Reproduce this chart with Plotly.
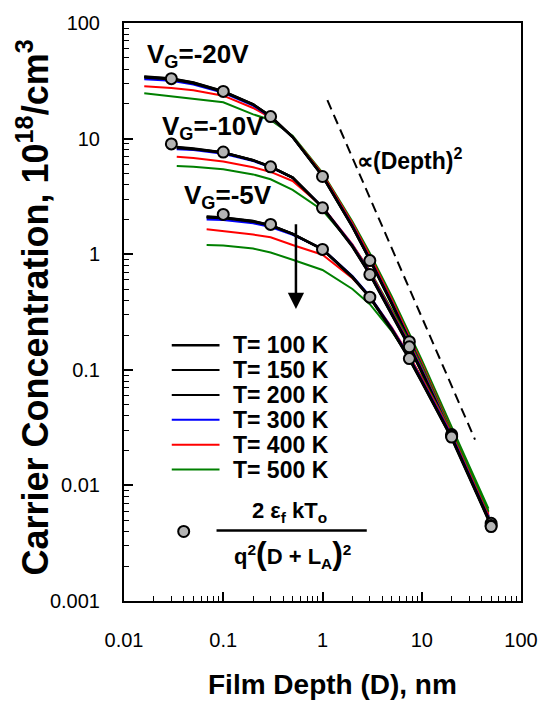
import math
import plotly.graph_objects as go

# Temperatures and their line colours (100-200 K are drawn in black)
temps = [100, 150, 200, 300, 400, 500]
temp_colors = ["#000000", "#000000", "#000000", "#0000ff", "#ff0000", "#008000"]

# Simulated carrier concentration (10^18 / cm^3) versus film depth (nm)
depth_20 = [0.016, 0.03, 0.05, 0.1, 0.2, 0.3, 0.5, 1, 2, 3, 5, 7.5, 10, 20, 47]
conc_20 = {
    100: [34.5, 33.2, 30.6, 25.7, 19.8, 15.6, 10.3, 4.72, 1.72, 0.89, 0.370, 0.175, 0.104, 0.0272, 0.0052],
    150: [34.2, 33.0, 30.4, 25.6, 19.8, 15.6, 10.3, 4.74, 1.73, 0.895, 0.372, 0.177, 0.105, 0.0275, 0.0053],
    200: [33.8, 32.6, 30.1, 25.4, 19.7, 15.5, 10.3, 4.76, 1.74, 0.90, 0.375, 0.179, 0.106, 0.0278, 0.0054],
    300: [32.6, 31.6, 29.3, 24.9, 19.3, 15.3, 10.3, 4.80, 1.78, 0.92, 0.385, 0.184, 0.109, 0.0285, 0.0055],
    400: [28.4, 27.4, 26.2, 23.5, 18.4, 15.2, 10.4, 4.95, 1.85, 0.97, 0.405, 0.192, 0.114, 0.0298, 0.0058],
    500: [24.7, 23.2, 22.2, 20.6, 16.2, 14.5, 10.6, 5.05, 1.92, 1.02, 0.430, 0.205, 0.122, 0.0320, 0.0063],
}

depth_10 = [0.034, 0.05, 0.1, 0.2, 0.3, 0.5, 1, 2, 3, 5, 7.5, 10, 20, 47]
conc_10 = {
    100: [8.45, 8.20, 7.60, 6.50, 5.72, 4.60, 2.53, 1.16, 0.665, 0.300, 0.157, 0.095, 0.0263, 0.0051],
    150: [8.40, 8.15, 7.58, 6.50, 5.72, 4.60, 2.54, 1.17, 0.670, 0.303, 0.159, 0.096, 0.0266, 0.0052],
    200: [8.30, 8.10, 7.55, 6.48, 5.70, 4.60, 2.55, 1.18, 0.675, 0.306, 0.161, 0.097, 0.0269, 0.0053],
    300: [8.10, 7.95, 7.40, 6.40, 5.65, 4.58, 2.57, 1.20, 0.690, 0.314, 0.165, 0.100, 0.0277, 0.0054],
    400: [6.95, 6.80, 6.35, 5.65, 5.15, 4.30, 2.58, 1.22, 0.710, 0.325, 0.170, 0.103, 0.0285, 0.0056],
    500: [5.80, 5.70, 5.43, 4.90, 4.45, 3.60, 2.40, 1.20, 0.720, 0.335, 0.178, 0.108, 0.0300, 0.0060],
}

depth_5 = [0.068, 0.1, 0.2, 0.3, 0.5, 1, 2, 3, 5, 7.5, 10, 20, 47]
conc_5 = {
    100: [2.12, 2.08, 1.94, 1.78, 1.50, 1.10, 0.630, 0.420, 0.220, 0.123, 0.078, 0.0255, 0.0050],
    150: [2.10, 2.07, 1.93, 1.78, 1.50, 1.10, 0.635, 0.424, 0.222, 0.124, 0.079, 0.0258, 0.0051],
    200: [2.08, 2.05, 1.91, 1.77, 1.50, 1.11, 0.640, 0.428, 0.224, 0.126, 0.080, 0.0262, 0.0052],
    300: [2.00, 1.98, 1.85, 1.72, 1.47, 1.11, 0.650, 0.435, 0.229, 0.129, 0.082, 0.0270, 0.0053],
    400: [1.64, 1.58, 1.48, 1.40, 1.20, 0.99, 0.620, 0.430, 0.232, 0.132, 0.085, 0.0280, 0.0055],
    500: [1.20, 1.19, 1.12, 1.035, 0.895, 0.73, 0.500, 0.370, 0.215, 0.128, 0.086, 0.0290, 0.0059],
}

# Analytical estimate 2*eps_f*k*T0 / (q^2 (D + L_A)^2)
fit_depth = [0.03, 0.1, 0.3, 1, 3, 7.5, 20, 50]
fit_20 = [33.0, 25.6, 15.5, 4.70, 0.88, 0.175, 0.0275, 0.0047]
fit_10 = [9.0, 7.65, 5.70, 2.52, 0.667, 0.158, 0.0267, 0.0045]
fit_depth_5 = [0.1, 0.3, 1, 3, 7.5, 20, 50]
fit_5 = [2.21, 1.81, 1.10, 0.425, 0.125, 0.0262, 0.0044]

# Depth^-2 guide line and the temperature arrow
guide_depth = [1.12, 34.4]
guide_conc = [21.5, 0.0249]
arrow_depth = 0.54
arrow_from, arrow_to = 1.87, 0.336

x_ticks = [0.01, 0.1, 1, 10, 100]
y_ticks = [0.001, 0.01, 0.1, 1, 10, 100]
x_ticktext = ["0.01", "0.1", "1", "10", "100"]
y_ticktext = ["0.001", "0.01", "0.1", "1", "10", "100"]


def minor_values(lo_exp, hi_exp):
    return [m * 10.0 ** e for e in range(lo_exp, hi_exp) for m in range(2, 10)]


W, H = 550, 705
ML, MR, MT, MB = 124, 27, 15, 104
PW, PH = W - ML - MR, H - MT - MB


def px(x):
    return (x - ML) / PW


def py(y):
    return (H - MB - y) / PH


FONT = "Liberation Sans, Arial, Helvetica, sans-serif"

fig = go.Figure()

groups = [(depth_20, conc_20), (depth_10, conc_10), (depth_5, conc_5)]
for depth, conc in groups:
    for T, col in reversed(list(zip(temps, temp_colors))):
        fig.add_trace(go.Scatter(
            x=depth, y=conc[T], mode="lines",
            line=dict(color=col, width=2.4 if col == "#000000" else 2),
            showlegend=False, hoverinfo="skip"))

fig.add_trace(go.Scatter(
    x=guide_depth, y=guide_conc, mode="lines",
    line=dict(color="black", width=2, dash="10px,6px"),
    showlegend=False, hoverinfo="skip"))

for fx, fy in [(fit_depth, fit_20), (fit_depth, fit_10), (fit_depth_5, fit_5)]:
    fig.add_trace(go.Scatter(
        x=fx, y=fy, mode="markers",
        marker=dict(size=11, color="#b4b4b4", line=dict(color="black", width=2)),
        showlegend=False, hoverinfo="skip"))


def log_axis(rng, vals, texts, minor_vals, standoff):
    return dict(
        type="log", range=rng, showgrid=False, zeroline=False,
        showline=True, linecolor="black", linewidth=2, mirror=True,
        ticks="inside", ticklen=9, tickwidth=1.5, tickcolor="black",
        tickmode="array", tickvals=vals, ticktext=texts,
        ticklabelstandoff=standoff,
        tickfont=dict(family=FONT, size=20, color="black"),
        minor=dict(tickmode="array", tickvals=minor_vals,
                   ticks="inside", ticklen=5, tickwidth=1.2,
                   tickcolor="black", showgrid=False),
    )


fig.update_layout(
    width=W, height=H,
    margin=dict(l=ML, r=MR, t=MT, b=MB, pad=0),
    paper_bgcolor="white", plot_bgcolor="white",
    showlegend=False,
    xaxis=log_axis([-2, 2], x_ticks, x_ticktext, minor_values(-2, 2), 20),
    yaxis=log_axis([-3, 2], y_ticks, y_ticktext, minor_values(-3, 2), 18),
)

ann = []
# Axis titles
ann.append(dict(xref="paper", yref="paper", x=px(334), y=py(686),
                text="<b>Film Depth (D), nm</b>", showarrow=False,
                xanchor="center", yanchor="middle",
                font=dict(family=FONT, size=28, color="black")))
ann.append(dict(xref="paper", yref="paper", x=px(33), y=py(303),
                text="<b>Carrier Concentration, 10<sup>18</sup>/cm<sup>3</sup></b>",
                showarrow=False, textangle=-90,
                xanchor="center", yanchor="middle",
                font=dict(family=FONT, size=36, color="black")))

# Gate-bias labels
for label, lx, ly in [("-20V", 145, 48), ("-10V", 160, 121), ("-5V", 182, 191)]:
    ann.append(dict(xref="paper", yref="paper", x=px(lx), y=py(ly),
                    text="<b>V<sub>G</sub>=" + label + "</b>", showarrow=False,
                    xanchor="left", yanchor="middle",
                    font=dict(family=FONT, size=26, color="black")))

# Guide-line label
ann.append(dict(xref="paper", yref="paper", x=px(356), y=py(153),
                text="<b>\u221d(Depth)<sup>2</sup></b>", showarrow=False,
                xanchor="left", yanchor="middle",
                font=dict(family=FONT, size=23, color="black")))

# Temperature arrow
ann.append(dict(xref="x", yref="y", axref="x", ayref="y",
                x=math.log10(arrow_depth), y=math.log10(arrow_to),
                ax=math.log10(arrow_depth), ay=math.log10(arrow_from),
                text="", showarrow=True, arrowhead=2, arrowsize=1.3,
                arrowwidth=2.5, arrowcolor="black"))

shapes = []
# Legend for temperatures
row_y = [341.7, 366.9, 392.1, 417.3, 442.5, 467.7]
for T, col, ry in zip(temps, temp_colors, row_y):
    shapes.append(dict(type="line", xref="paper", yref="paper",
                       x0=px(172), x1=px(220), y0=py(ry), y1=py(ry),
                       line=dict(color=col, width=2.5 if T == 100 else 2)))
    ann.append(dict(xref="paper", yref="paper", x=px(232), y=py(ry),
                    text="<b>T= %d K</b>" % T, showarrow=False,
                    xanchor="left", yanchor="middle",
                    font=dict(family=FONT, size=23, color="black")))

# Legend for the analytical estimate
shapes.append(dict(type="circle", xref="paper", yref="paper",
                   xsizemode="pixel", ysizemode="pixel",
                   xanchor=px(184), yanchor=py(530.5),
                   x0=-5.5, x1=5.5, y0=-5.5, y1=5.5,
                   fillcolor="#b4b4b4", line=dict(color="black", width=2)))
shapes.append(dict(type="line", xref="paper", yref="paper",
                   x0=px(217), x1=px(368), y0=py(529.5), y1=py(529.5),
                   line=dict(color="black", width=2.5)))
ann.append(dict(xref="paper", yref="paper", x=px(290), y=py(527),
                text="<b>2 \u03b5<sub>f</sub> kT<sub>o</sub></b>", showarrow=False,
                xanchor="center", yanchor="bottom",
                font=dict(family=FONT, size=22, color="black")))
ann.append(dict(xref="paper", yref="paper", x=px(293), y=py(532),
                text="<b>q<sup>2</sup><span style='font-size:32px'>(</span>D + L<sub>A</sub>"
                     "<span style='font-size:32px'>)</span><sup>2</sup></b>",
                showarrow=False, xanchor="center", yanchor="top",
                font=dict(family=FONT, size=22, color="black")))

fig.update_layout(annotations=ann, shapes=shapes)
fig.write_html("out.html")
